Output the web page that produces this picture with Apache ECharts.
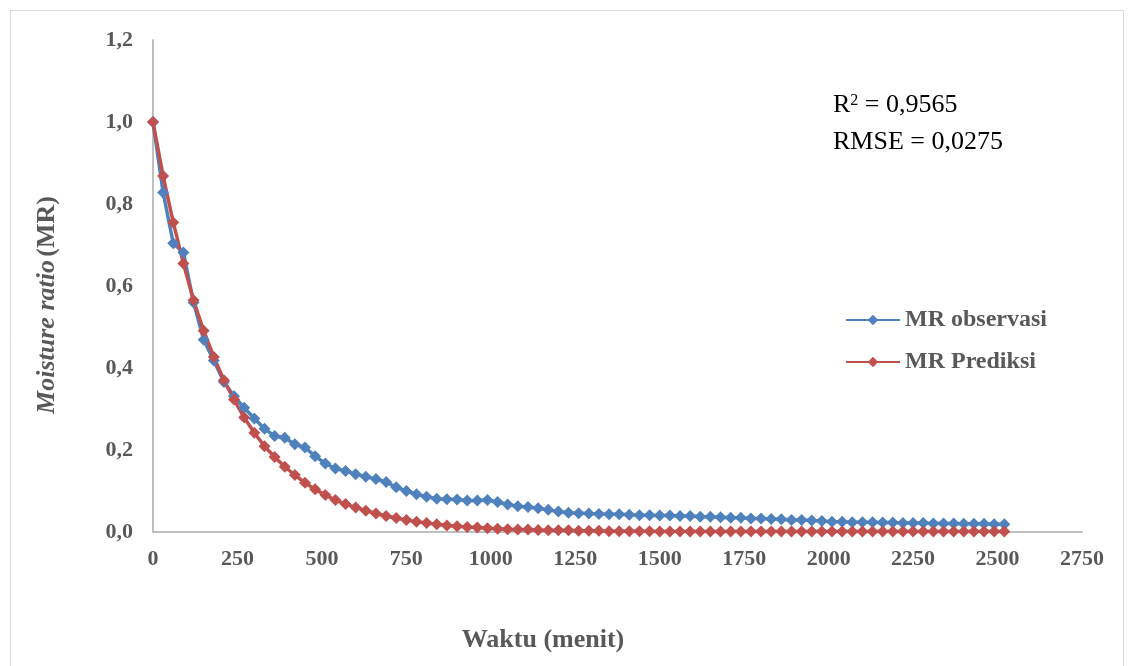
<!DOCTYPE html>
<html>
<head>
<meta charset="utf-8">
<script src="https://cdn.jsdelivr.net/npm/echarts@6/dist/echarts.min.js"></script>
<style>
  html, body { margin: 0; padding: 0; background: #fff; }
  #chart { width: 1129px; height: 666px; }
</style>
</head>
<body>
<div id="chart"></div>
<script>
// waktu (menit)
const waktu = [
  0, 30, 60, 90, 120, 150, 180, 210, 240, 270, 300, 330, 360, 390, 420, 450, 480, 510, 540, 570,
  600, 630, 660, 690, 720, 750, 780, 810, 840, 870, 900, 930, 960, 990, 1020, 1050, 1080, 1110, 1140, 1170,
  1200, 1230, 1260, 1290, 1320, 1350, 1380, 1410, 1440, 1470, 1500, 1530, 1560, 1590, 1620, 1650, 1680, 1710, 1740, 1770,
  1800, 1830, 1860, 1890, 1920, 1950, 1980, 2010, 2040, 2070, 2100, 2130, 2160, 2190, 2220, 2250, 2280, 2310, 2340, 2370,
  2400, 2430, 2460, 2490, 2520
];

const mrObservasi = [
  1.000, 0.828, 0.704, 0.682, 0.560, 0.469, 0.418, 0.366, 0.331, 0.303, 0.277, 0.252, 0.234, 0.230, 0.214, 0.206, 0.185, 0.167, 0.155, 0.149,
  0.141, 0.135, 0.129, 0.122, 0.109, 0.100, 0.092, 0.086, 0.081, 0.080, 0.079, 0.077, 0.077, 0.078, 0.073, 0.067, 0.063, 0.061, 0.058, 0.054,
  0.050, 0.047, 0.046, 0.045, 0.044, 0.043, 0.043, 0.042, 0.041, 0.041, 0.040, 0.040, 0.039, 0.039, 0.037, 0.037, 0.036, 0.035, 0.035, 0.033,
  0.033, 0.032, 0.031, 0.029, 0.029, 0.028, 0.027, 0.025, 0.025, 0.024, 0.024, 0.024, 0.023, 0.023, 0.022, 0.022, 0.022, 0.021, 0.021, 0.021,
  0.020, 0.020, 0.020, 0.019, 0.019
];

const mrPrediksi = [
  1.000, 0.868, 0.755, 0.655, 0.565, 0.491, 0.427, 0.370, 0.323, 0.279, 0.242, 0.209, 0.183, 0.159, 0.139, 0.120, 0.104, 0.090, 0.078, 0.068,
  0.060, 0.052, 0.045, 0.039, 0.034, 0.029, 0.025, 0.022, 0.019, 0.016, 0.014, 0.012, 0.011, 0.009, 0.008, 0.007, 0.006, 0.006, 0.005, 0.004,
  0.004, 0.004, 0.003, 0.003, 0.003, 0.002, 0.002, 0.002, 0.002, 0.002, 0.001, 0.001, 0.001, 0.001, 0.001, 0.001, 0.001, 0.001, 0.001, 0.001,
  0.001, 0.001, 0.001, 0.001, 0.001, 0.001, 0.001, 0.001, 0.001, 0.001, 0.001, 0.001, 0.001, 0.001, 0.001, 0.001, 0.001, 0.001, 0.001, 0.001,
  0.001, 0.001, 0.001, 0.001, 0.001
];

const serif = "'Liberation Serif', 'Times New Roman', serif";
const labelColor = "#595959";

const toPairs = (ys) => waktu.map((t, i) => [t, ys[i]]);

const chart = echarts.init(document.getElementById("chart"));

const option = {
  backgroundColor: "#fff",
  animation: false,
  grid: { left: 153, top: 40, width: 929, height: 492 },
  legend: {
    orient: "vertical",
    left: 840,
    top: 303,
    itemWidth: 54,
    itemHeight: 13,
    itemGap: 18,
    textStyle: { fontFamily: serif, fontWeight: "bold", fontSize: 24, color: labelColor },
    data: ["MR observasi", "MR Prediksi"],
  },
  xAxis: {
    type: "value",
    min: 0,
    max: 2750,
    interval: 250,
    axisLine: { lineStyle: { color: "#bfbfbf", width: 2 } },
    axisTick: { show: false },
    splitLine: { show: false },
    axisLabel: {
      margin: 16,
      fontFamily: serif,
      fontWeight: "bold",
      fontSize: 22,
      color: labelColor,
      formatter: (v) => String(v),
    },
  },
  yAxis: {
    type: "value",
    min: 0,
    max: 1.2,
    interval: 0.2,
    axisLine: { show: true, lineStyle: { color: "#bfbfbf", width: 2 } },
    axisTick: { show: false },
    splitLine: { show: false },
    axisLabel: {
      margin: 20,
      fontFamily: serif,
      fontWeight: "bold",
      fontSize: 22,
      color: labelColor,
      formatter: (v) => v.toFixed(1).replace(".", ","),
    },
  },
  graphic: [
    {
      type: "rect",
      left: 8,
      top: 8,
      shape: { width: 1113, height: 680 },
      style: { fill: "none", stroke: "#d9d9d9", lineWidth: 1 },
      silent: true,
    },
    {
      type: "text",
      x: 543,
      y: 640,
      style: {
        text: "Waktu (menit)",
        fontFamily: serif,
        fontWeight: "bold",
        fontSize: 26,
        fill: labelColor,
        align: "center",
        verticalAlign: "middle",
      },
    },
    {
      type: "text",
      x: 47,
      y: 305,
      rotation: Math.PI / 2,
      style: {
        text: "{i|Moisture ratio} {n|(MR)}",
        align: "center",
        verticalAlign: "middle",
        rich: {
          i: { fontFamily: serif, fontStyle: "italic", fontWeight: "bold", fontSize: 26, fill: labelColor },
          n: { fontFamily: serif, fontWeight: "bold", fontSize: 26, fill: labelColor },
        },
      },
    },
    {
      type: "text",
      x: 833,
      y: 87,
      style: {
        text: "{t|R}{s|2}{t| = 0,9565}\n{t|RMSE = 0,0275}",
        rich: {
          t: { fontFamily: serif, fontSize: 26, fill: "#000", lineHeight: 37 },
          s: { fontFamily: serif, fontSize: 16, fill: "#000", lineHeight: 16, verticalAlign: "top", padding: [6, 0, 0, 0] },
        },
      },
    },
  ],
  series: [
    {
      name: "MR observasi",
      type: "line",
      data: toPairs(mrObservasi),
      symbol: "diamond",
      symbolSize: 12,
      color: "#4f81bd",
      lineStyle: { width: 3.5, color: "#4f81bd" },
      itemStyle: { color: "#4f81bd" },
    },
    {
      name: "MR Prediksi",
      type: "line",
      data: toPairs(mrPrediksi),
      symbol: "diamond",
      symbolSize: 12,
      color: "#c0504d",
      lineStyle: { width: 3.5, color: "#c0504d" },
      itemStyle: { color: "#c0504d" },
    },
  ],
};

chart.setOption(option);
</script>
</body>
</html>
